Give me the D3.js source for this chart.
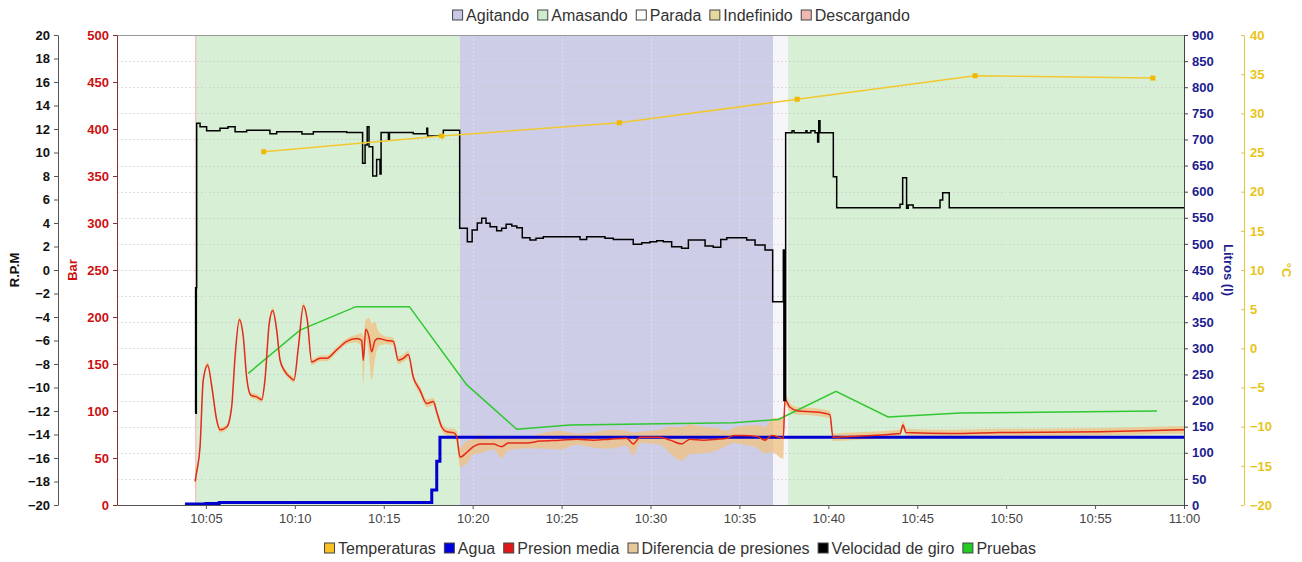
<!DOCTYPE html>
<html><head><meta charset="utf-8">
<script src="https://cdn.jsdelivr.net/npm/d3@7"></script>
<style>
body{margin:0;background:#fff}
svg{display:block}
text{font-family:"Liberation Sans",Arial,sans-serif}
</style>
</head><body>
<svg id="c" width="1302" height="562"></svg>
<script>
// ---------------- DATA (time in minutes after 10:00) ----------------
const stateNames = ["Agitando","Amasando","Parada","Indefinido","Descargando"];
const periodStart = [0, 4.40, 4.48, 19.29, 36.89, 37.73];
const periodEnd   = [4.40, 4.48, 19.29, 36.89, 37.73, 60];
const periodState = ["Parada","Descargando","Amasando","Agitando","Parada","Amasando"];

const seriesNames = ["Temperaturas","Agua","Presion media","Diferencia de presiones","Velocidad de giro","Pruebas"];

const xTickMinutes = [5,10,15,20,25,30,35,40,45,50,55,60];

// Temperaturas (°C)
const tempT = [8.25, 18.25, 28.25, 38.25, 48.25, 58.25];
const tempV = [25.1, 27.1, 28.8, 31.8, 34.8, 34.5];

// Agua (litros), stepped
const aguaT = [3.82, 5.0, 5.75, 17.70, 17.98, 18.16, 60];
const aguaV = [0, 1, 3, 27, 82, 128, 128];

// Presion media (bar) and half-width of Diferencia de presiones (bar)
const presT = [4.39,4.48,4.67,4.85,5.10,5.33,5.61,5.79,6.17,6.45,6.64,6.88,7.10,7.29,7.52,7.86,8.14,8.32,8.56,8.76,
  8.98,9.17,9.45,9.73,9.95,10.20,10.48,10.70,10.95,11.42,11.79,12.35,12.92,13.48,13.76,13.85,13.99,14.17,14.32,14.51,
  14.69,15.17,15.54,15.82,16.10,16.38,16.66,17.04,17.42,17.79,17.98,18.26,18.54,18.91,19.10,19.29,19.67,20.04,20.41,21.16,
  21.63,22.0,23.04,23.79,24.91,25.85,26.78,27.72,28.66,29.03,29.41,30.53,31.10,31.75,32.22,32.97,33.72,34.29,34.66,35.22,
  35.97,36.44,36.82,37.47,37.56,37.84,38.31,39.25,40.09,40.26,41.22,44.03,44.20,44.37,46.84,49.65,55.28,60];
const presV = [25,35,62,133,149,126,90,80,83,105,158,197,179,136,117,115,112,133,193,207,
  186,154,142,136,133,168,212,197,152,156,156,165,174,177,175,154,187,179,163,175,
  177,175,174,154,156,160,136,122,108,110,99,83,78,77,73,51,56,62,65,65,
  62,66,66,68,69,70,69,70,71,65,72,72,69,65,70,69,70,71,74,74,
  73,69,74,71,112,104,100,99,96,72,73,76,85,77,76,77,78,80];
const presD = [14,6,4,4,3,3,3,3,3,3,3,3,3,3,3,3,3,3,3,3,
  3,3,3,3,3,3,3,3,3,3,3,3,3,4,8,25,10,20,30,20,
  8,4,4,4,4,4,4,4,4,4,4,4,4,4,6,10,12,8,10,6,
  12,8,6,8,10,6,8,10,8,12,6,8,14,18,16,14,12,8,8,10,
  12,14,18,22,6,4,4,4,4,4,4,4,4,4,4,4,4,4];

// Velocidad de giro (R.P.M), stepped
const rpmT = [4.40,4.42,4.44,4.46,4.48,4.67,5.04,5.79,6.24,6.64,7.29,8.60,8.98,10.40,11.04,12.92,13.81,13.95,14.07,14.17,
  14.38,14.60,14.79,14.85,15.26,15.32,16.66,17.42,17.47,18.35,19.27,19.70,19.97,20.26,20.51,20.75,20.98,21.35,21.63,21.88,
  22.20,22.48,22.79,23.22,23.56,23.97,26.04,26.41,27.44,27.91,29.03,29.51,29.97,30.35,30.72,31.19,31.75,32.13,33.07,33.53,
  33.95,34.29,35.41,35.88,36.44,36.87,37.47,37.50,37.53,37.56,37.60,37.96,38.07,38.74,38.80,39.02,39.25,39.40,39.46,39.53,
  40.28,40.47,44.03,44.18,44.40,44.49,44.77,46.28,46.43,46.80,60];
const rpmV = [-12.2,-1.5,-12.2,-1.5,12.5,12.2,11.85,12.06,12.2,11.77,11.9,11.6,11.77,11.57,11.77,11.7,9.08,10.64,12.2,10.5,
  8.0,9.4,8.17,11.7,11.06,11.7,11.6,12.06,11.4,11.9,3.55,2.4,3.4,4.0,4.4,3.97,3.69,3.35,3.55,3.89,
  3.74,3.6,2.75,2.55,2.7,2.83,2.6,2.83,2.7,2.6,2.19,2.32,2.4,2.49,2.4,1.98,1.85,2.55,2.04,1.93,
  2.6,2.75,2.55,2.13,1.7,-2.7,1.7,-11.1,1.7,-11.1,11.69,11.85,11.69,11.85,11.69,11.85,11.69,10.9,12.7,11.69,
  7.94,5.3,5.6,7.85,5.25,5.53,5.3,5.96,6.58,5.3,5.3];

// Pruebas (bar scale)
const pruT = [7.38,10.29,13.44,16.44,19.66,22.48,25.47,34.66,37.19,40.43,43.36,47.40,58.48];
const pruV = [140,186,211,211,128,80.5,85,87.5,91,121,93.6,97.9,100];

// ---------------- STYLE ----------------
const stateFill = {Agitando:"#cdcde7",Amasando:"#d7efd5",Parada:"#f6f6fa",Indefinido:"#e6d89c",Descargando:"#f0b4b0"};
const stateSwatch = {Agitando:"#c8c8e8",Amasando:"#cdeccd",Parada:"#ffffff",Indefinido:"#e6d89c",Descargando:"#f0b8b0"};
const seriesSwatch = {"Temperaturas":"#f8c020","Agua":"#0000dd","Presion media":"#e01818","Diferencia de presiones":"#e6c89a","Velocidad de giro":"#000000","Pruebas":"#22cc22"};

const L = 117, R = 1184, T = 35, B = 505;
const T0 = new Date(2021,0,1,10,0,0);
const tm = m => new Date(+T0 + m*60000);

const svg = d3.select("#c");
const x = d3.scaleTime().domain([tm(0), tm(60)]).range([L, R]);
const yRpm = d3.scaleLinear().domain([-20,20]).range([B,T]);
const yBar = d3.scaleLinear().domain([0,500]).range([B,T]);
const yLit = d3.scaleLinear().domain([0,900]).range([B,T]);
const yC = d3.scaleLinear().domain([-20,40]).range([B,T]);

// bands
svg.append("g").selectAll("rect").data(periodStart.map((s,i)=>({s, e:periodEnd[i], k:periodState[i]})))
  .join("rect")
  .attr("x", d=>x(tm(d.s))).attr("width", d=>x(tm(d.e))-x(tm(d.s)))
  .attr("y", T).attr("height", B-T)
  .attr("fill", d=> d.k==="Parada" && d.s===0 ? "#ffffff" : stateFill[d.k]);

// gridlines
const grid = svg.append("g").attr("stroke","#c8c8c8").attr("stroke-dasharray","2,2").attr("stroke-width",1).attr("opacity",0.6);
grid.selectAll("line.h").data(d3.range(50,900,50)).join("line")
  .attr("x1",L).attr("x2",R).attr("y1",d=>Math.round(yLit(d))+0.5).attr("y2",d=>Math.round(yLit(d))+0.5);
grid.selectAll("line.v").data(xTickMinutes.slice(0,-1)).join("line")
  .attr("y1",T).attr("y2",B).attr("x1",d=>Math.round(x(tm(d)))+0.5).attr("x2",d=>Math.round(x(tm(d)))+0.5)
  .attr("stroke","#e8e8f0");

// plot outline top
svg.append("line").attr("x1",L).attr("x2",R).attr("y1",T+0.5).attr("y2",T+0.5).attr("stroke","#999");

// Diferencia de presiones band
const presData = presT.map((t,i)=>({t, v:presV[i], d:presD[i]}));
svg.append("path").datum(presData)
  .attr("d", d3.area().curve(d3.curveMonotoneX).x(d=>x(tm(d.t))).y0(d=>yBar(Math.max(0,d.v-d.d))).y1(d=>yBar(d.v+d.d)))
  .attr("fill","#f0c080").attr("opacity",0.75);

// Pruebas
svg.append("path").datum(pruT.map((t,i)=>({t,v:pruV[i]})))
  .attr("d", d3.line().x(d=>x(tm(d.t))).y(d=>yBar(d.v)))
  .attr("fill","none").attr("stroke","#30c830").attr("stroke-width",1.5);

// Agua
svg.append("path").datum(aguaT.map((t,i)=>({t,v:aguaV[i]})))
  .attr("d", d3.line().curve(d3.curveStepAfter).x(d=>x(tm(d.t))).y(d=>yLit(d.v)-1))
  .attr("fill","none").attr("stroke","#0000d0").attr("stroke-width",3);

// Presion media
svg.append("path").datum(presData)
  .attr("d", d3.line().curve(d3.curveMonotoneX).x(d=>x(tm(d.t))).y(d=>yBar(d.v)))
  .attr("fill","none").attr("stroke","#e42a18").attr("stroke-width",1.5);

// Velocidad de giro
svg.append("path").datum(rpmT.map((t,i)=>({t,v:rpmV[i]})))
  .attr("d", d3.line().curve(d3.curveStepAfter).x(d=>x(tm(d.t))).y(d=>yRpm(d.v)))
  .attr("fill","none").attr("stroke","#000").attr("stroke-width",1.5);

// Temperaturas
const tempData = tempT.map((t,i)=>({t,v:tempV[i]}));
svg.append("path").datum(tempData)
  .attr("d", d3.line().x(d=>x(tm(d.t))).y(d=>yC(d.v)))
  .attr("fill","none").attr("stroke","#f2c830").attr("stroke-width",1.5);
svg.append("g").selectAll("rect").data(tempData).join("rect")
  .attr("x",d=>x(tm(d.t))-2.5).attr("y",d=>yC(d.v)-2.5).attr("width",5).attr("height",5)
  .attr("fill","#f0b800");

// ---------------- AXES ----------------
function styleAxis(g, color, lineColor, bold){
  g.selectAll("text").attr("fill",color).attr("font-size","13px").attr("font-weight",bold?"bold":"normal");
  g.select(".domain").attr("stroke",lineColor);
  g.selectAll(".tick line").attr("stroke",lineColor);
}
// x axis
const gx = svg.append("g").attr("transform",`translate(0,${B})`)
  .call(d3.axisBottom(x).tickValues(xTickMinutes.map(tm)).tickFormat(d3.timeFormat("%H:%M")).tickSizeInner(4).tickSizeOuter(0).tickPadding(5));
styleAxis(gx,"#444","#555",false);

// RPM
const gr = svg.append("g").attr("transform","translate(58,0)")
  .call(d3.axisLeft(yRpm).tickValues(d3.range(-20,21,2)).tickSizeInner(4).tickSizeOuter(0).tickPadding(4));
styleAxis(gr,"#111","#555",true);

// Bar
const gb = svg.append("g").attr("transform",`translate(${L},0)`)
  .call(d3.axisLeft(yBar).tickValues(d3.range(0,501,50)).tickSizeInner(4).tickSizeOuter(0).tickPadding(4));
styleAxis(gb,"#cc1010","#8a3030",true);

// Litros
const gl = svg.append("g").attr("transform",`translate(${R},0)`)
  .call(d3.axisRight(yLit).tickValues(d3.range(0,901,50)).tickSizeInner(4).tickSizeOuter(0).tickPadding(4));
styleAxis(gl,"#1c1c90","#444",true);

// °C
const gc = svg.append("g").attr("transform","translate(1244,0)")
  .call(d3.axisRight(yC).tickValues(d3.range(-20,41,5)).tickSizeInner(-3).tickSizeOuter(0).tickPadding(6));
styleAxis(gc,"#e8c418","#e0c440",true);

// axis titles
const mid = (T+B)/2;
svg.append("text").attr("transform",`translate(19,${mid}) rotate(-90)`).attr("text-anchor","middle")
  .attr("font-size","13px").attr("font-weight","bold").attr("fill","#111").text("R.P.M");
svg.append("text").attr("transform",`translate(77,${mid}) rotate(-90)`).attr("text-anchor","middle")
  .attr("font-size","13px").attr("font-weight","bold").attr("fill","#cc1010").text("Bar");
svg.append("text").attr("transform",`translate(1224,${mid}) rotate(90)`).attr("text-anchor","middle")
  .attr("font-size","13px").attr("font-weight","bold").attr("fill","#1c1c90").text("Litros (l)");
svg.append("text").attr("transform",`translate(1282,${mid}) rotate(90)`).attr("text-anchor","middle")
  .attr("font-size","13px").attr("font-weight","bold").attr("fill","#e8c418").text("°C");

// ---------------- LEGENDS ----------------
function legend(names, colors, cy, cx){
  const g = svg.append("g");
  const items = names.map(n=>{
    const it = g.append("g");
    it.append("rect").attr("width",10).attr("height",10).attr("y",-5).attr("x",0.5)
      .attr("fill",colors[n]).attr("stroke","#444").attr("stroke-width",1);
    const t = it.append("text").attr("x",14).attr("y",5.5).attr("font-size","16px").attr("fill","#333").text(n);
    return {it, w: 14 + t.node().getComputedTextLength()};
  });
  const gap = 8;
  const total = d3.sum(items, d=>d.w) + gap*(items.length-1);
  let xx = cx - total/2;
  items.forEach(d=>{ d.it.attr("transform",`translate(${xx},${cy})`); xx += d.w + gap; });
}
legend(stateNames, stateSwatch, 15, 681);
legend(seriesNames, seriesSwatch, 548, 680);
</script>
</body></html>
